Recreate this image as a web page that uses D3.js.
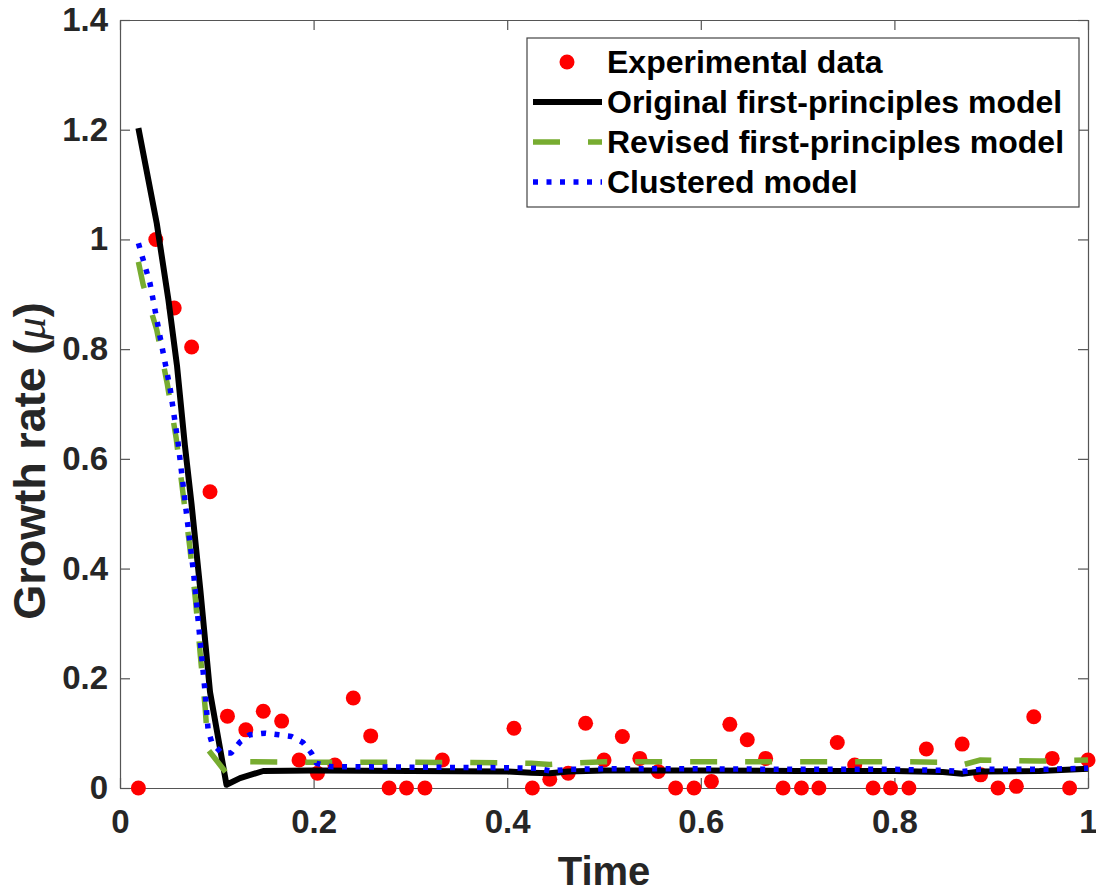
<!DOCTYPE html>
<html lang="en">
<head>
<meta charset="UTF-8">
<title>Growth rate vs time</title>
<script src="https://d3js.org/d3.v7.min.js"></script>
<style>
    body { margin: 0; background: #fff; }
    svg { display: block; font-family: "Liberation Sans", Arial, sans-serif; font-weight: bold; }
    .tick text { fill: #262626; font-size: 33px; font-weight: bold; }
    .tick line { stroke: #555; stroke-width: 1.2; }
    .domain { stroke: #555; stroke-width: 1.2; }
</style>
</head>
<body>
<svg id="chart"></svg>
<script>
// experimental data (red dots)
const expTime = [0.019, 0.037, 0.056, 0.074, 0.093, 0.111, 0.130, 0.148, 0.167, 0.185,
    0.204, 0.222, 0.241, 0.259, 0.278, 0.296, 0.315, 0.333, 0.407, 0.426,
    0.444, 0.463, 0.481, 0.500, 0.519, 0.537, 0.556, 0.574, 0.593, 0.611,
    0.630, 0.648, 0.667, 0.685, 0.704, 0.722, 0.741, 0.759, 0.778, 0.796,
    0.815, 0.833, 0.870, 0.889, 0.907, 0.926, 0.944, 0.963, 0.981, 1.000];
const expValue = [0, 1.0, 0.875, 0.804, 0.54, 0.131, 0.106, 0.14, 0.122, 0.051,
    0.027, 0.042, 0.164, 0.095, 0, 0, 0, 0.051, 0.109, 0,
    0.016, 0.027, 0.118, 0.051, 0.094, 0.054, 0.030, 0, 0, 0.012,
    0.116, 0.088, 0.054, 0, 0, 0, 0.083, 0.042, 0, 0,
    0, 0.071, 0.080, 0.024, 0, 0.003, 0.130, 0.054, 0, 0.051];

// original first-principles model (black)
const origTime = [0.019, 0.038, 0.050, 0.059, 0.067, 0.074, 0.083, 0.093, 0.110, 0.124,
    0.148, 0.2, 0.3, 0.4, 0.425, 0.444, 0.463, 0.5, 0.6, 0.7,
    0.8, 0.85, 0.87, 0.889, 0.95, 1.0];
const origValue = [1.203, 1.029, 0.89, 0.768, 0.625, 0.516, 0.361, 0.175, 0.006, 0.018,
    0.031, 0.032, 0.031, 0.030, 0.028, 0.027, 0.030, 0.032, 0.032, 0.031,
    0.031, 0.029, 0.026, 0.030, 0.031, 0.035];

// revised first-principles model (green dashed)
const revTime = [0.019, 0.024, 0.038, 0.049, 0.058, 0.065, 0.072, 0.078, 0.083, 0.088,
    0.091, 0.110, 0.134, 0.2, 0.3, 0.4, 0.425, 0.444, 0.463, 0.5,
    0.6, 0.7, 0.8, 0.852, 0.870, 0.889, 0.95, 1.0];
const revValue = [0.959, 0.917, 0.835, 0.735, 0.638, 0.538, 0.441, 0.343, 0.242, 0.146,
    0.07, 0.027, 0.048, 0.047, 0.047, 0.046, 0.045, 0.043, 0.045, 0.048,
    0.048, 0.048, 0.048, 0.047, 0.042, 0.051, 0.049, 0.051];

// clustered model (blue dotted)
const clusTime = [0.019, 0.031, 0.041, 0.052, 0.060, 0.067, 0.076, 0.084, 0.088, 0.091,
    0.095, 0.105, 0.115, 0.124, 0.134, 0.150, 0.164, 0.177, 0.189, 0.198,
    0.203, 0.217, 0.3, 0.4, 0.43, 0.445, 0.463, 0.5, 0.6, 0.7,
    0.8, 0.852, 0.870, 0.889, 0.95, 1.0];
const clusValue = [0.993, 0.92, 0.826, 0.726, 0.629, 0.525, 0.392, 0.246, 0.173, 0.106,
    0.082, 0.064, 0.064, 0.084, 0.097, 0.100, 0.097, 0.094, 0.083, 0.063,
    0.045, 0.039, 0.038, 0.037, 0.036, 0.031, 0.034, 0.035, 0.035, 0.034,
    0.034, 0.032, 0.030, 0.034, 0.034, 0.036];

const xTicks = [0, 0.2, 0.4, 0.6, 0.8, 1];
const yTicks = [0, 0.2, 0.4, 0.6, 0.8, 1, 1.2, 1.4];
const legendLabels = ["Experimental data", "Original first-principles model",
    "Revised first-principles model", "Clustered model"];

const width = 1096, height = 893;
const margin = { top: 20, right: 8, bottom: 105, left: 120 };
const plotW = width - margin.left - margin.right;
const plotH = height - margin.top - margin.bottom;

const svg = d3.select("#chart").attr("width", width).attr("height", height);
const g = svg.append("g").attr("transform", `translate(${margin.left},${margin.top})`);

const x = d3.scaleLinear().domain([0, 1]).range([0, plotW]);
const y = d3.scaleLinear().domain([0, 1.4]).range([plotH, 0]);

const fmt = d => (d === 0 || d === 1) ? String(d) : d3.format(".1f")(d);

g.append("g").attr("transform", `translate(0,${plotH})`)
    .call(d3.axisBottom(x).tickValues(xTicks).tickFormat(fmt).tickSizeInner(-10).tickSizeOuter(0).tickPadding(22));
g.append("g")
    .call(d3.axisTop(x).tickValues(xTicks).tickFormat("").tickSizeInner(-10).tickSizeOuter(0));
g.append("g")
    .call(d3.axisLeft(y).tickValues(yTicks).tickFormat(fmt).tickSizeInner(-10).tickSizeOuter(0).tickPadding(12));
g.append("g").attr("transform", `translate(${plotW},0)`)
    .call(d3.axisRight(y).tickValues(yTicks).tickFormat("").tickSizeInner(-10).tickSizeOuter(0));

// axis labels
svg.append("text")
    .attr("x", margin.left + plotW / 2).attr("y", 885)
    .attr("text-anchor", "middle")
    .style("font-size", "40px").style("fill", "#262626")
    .text("Time");

const yl = svg.append("text")
    .attr("transform", "translate(45,461) rotate(-90)")
    .attr("text-anchor", "middle")
    .style("font-size", "45px").style("fill", "#262626");
yl.append("tspan").text("Growth rate (");
yl.append("tspan").style("font-style", "italic").style("font-weight", "normal")
    .style("font-family", "'Liberation Serif', serif").text("\u03bc");
yl.append("tspan").text(")");

// experimental dots
g.selectAll("circle.exp")
    .data(expTime.map((t, i) => [t, expValue[i]]))
    .join("circle")
    .attr("class", "exp")
    .attr("cx", d => x(d[0])).attr("cy", d => y(d[1]))
    .attr("r", 7.5).attr("fill", "#ff0000");

const line = d3.line().x(d => x(d[0])).y(d => y(d[1]));
const series = [
    { time: origTime, value: origValue, color: "#000000", dash: null },
    { time: revTime, value: revValue, color: "#77ac30", dash: "27,28" },
    { time: clusTime, value: clusValue, color: "#0000ff", dash: "5,8.5" }
];
series.forEach(s => {
    g.append("path")
        .datum(s.time.map((t, i) => [t, s.value[i]]))
        .attr("d", line)
        .attr("fill", "none")
        .attr("stroke", s.color)
        .attr("stroke-width", s.dash ? 5.5 : 6)
        .attr("stroke-dasharray", s.dash)
        .attr("stroke-linejoin", "round");
});

// legend
const lg = svg.append("g").attr("transform", "translate(527,38)");
lg.append("rect").attr("width", 552).attr("height", 169)
    .attr("fill", "#fff").attr("stroke", "#444").attr("stroke-width", 1.2);
const rowY = [24, 64, 104, 144];
lg.append("circle").attr("cx", 40).attr("cy", rowY[0]).attr("r", 7.5).attr("fill", "#ff0000");
series.forEach((s, i) => {
    lg.append("line")
        .attr("x1", 6).attr("x2", 75)
        .attr("y1", rowY[i + 1]).attr("y2", rowY[i + 1])
        .attr("stroke", s.color)
        .attr("stroke-width", s.dash ? 5.5 : 6)
        .attr("stroke-dasharray", s.dash);
});
lg.selectAll("text.lab")
    .data(legendLabels)
    .join("text")
    .attr("class", "lab")
    .attr("x", 80).attr("y", (d, i) => rowY[i])
    .attr("dy", "0.35em")
    .style("font-size", "32px").style("fill", "#000")
    .text(d => d);
</script>
</body>
</html>
